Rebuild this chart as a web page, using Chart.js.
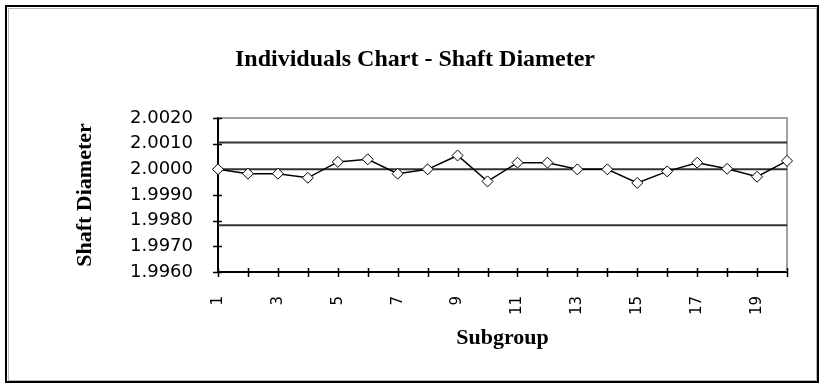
<!DOCTYPE html>
<html>
<head>
<meta charset="utf-8">
<script src="https://cdn.jsdelivr.net/npm/chart.js@4"></script>
<style>
  html, body { margin: 0; padding: 0; background: #fff; overflow: hidden; }
  #wrap { width: 825px; height: 385px; position: relative; }
</style>
</head>
<body>
<div id="wrap"><canvas id="c" width="825" height="385"></canvas></div>
<script>
// Individual shaft diameter readings per subgroup
const subgroups = ['1','2','3','4','5','6','7','8','9','10','11','12','13','14','15','16','17','18','19','20'];
const diameters = [2.0000, 1.99983, 1.99983, 1.99967, 2.00029, 2.00039, 1.99983, 2.0000, 2.00054, 1.99953,
                   2.00026, 2.00026, 2.0000, 2.0000, 1.99947, 1.99992, 2.00026, 2.00002, 1.99971, 2.00033];

// Control limits
const upperLimit = 2.00105;
const centerLine = 2.0000;
const lowerLimit = 1.99782;

// Axis ticks and labels
const yTickValues = [1.996, 1.997, 1.998, 1.999, 2.000, 2.001, 2.002];
const chartTitle = 'Individuals Chart - Shaft Diameter';
const xAxisTitle = 'Subgroup';
const yAxisTitle = 'Shaft Diameter';

const serif = '"Liberation Serif", "Times New Roman", serif';
const sans = '"DejaVu Sans", sans-serif';

function limitLine(value) {
  return {
    data: [{ x: subgroups[0], y: value }, { x: subgroups[subgroups.length - 1], y: value }],
    borderColor: '#333',
    borderWidth: 2,
    pointRadius: 0,
    fill: false
  };
}

const frame = {
  id: 'frame',
  beforeDatasetsDraw(chart) {
    const { ctx, chartArea: a, scales } = chart;
    ctx.save();
    // gray top and right plot edges
    ctx.strokeStyle = '#a0a0a0';
    ctx.lineWidth = 2;
    ctx.beginPath();
    ctx.moveTo(a.left, a.top);
    ctx.lineTo(a.right, a.top);
    ctx.lineTo(a.right, a.bottom);
    ctx.stroke();
    // tick marks crossing both axes
    ctx.strokeStyle = '#000';
    ctx.lineWidth = 1.5;
    ctx.beginPath();
    scales.x.ticks.forEach((t, i) => {
      const px = Math.round(scales.x.getPixelForTick(i)) + 0.5;
      ctx.moveTo(px, a.bottom - 4);
      ctx.lineTo(px, a.bottom + 5);
    });
    scales.y.ticks.forEach((t, i) => {
      const py = Math.round(scales.y.getPixelForTick(i)) + 0.5;
      ctx.moveTo(a.left - 5, py);
      ctx.lineTo(a.left + 4, py);
    });
    ctx.stroke();
    ctx.restore();
  },
  afterDraw(chart) {
    const { ctx, chartArea: a } = chart;
    ctx.save();
    // outer frame
    ctx.strokeStyle = '#000';
    ctx.lineWidth = 2;
    ctx.strokeRect(6, 6, 812, 376);
    ctx.strokeStyle = '#b8b8b8';
    ctx.lineWidth = 1;
    ctx.strokeRect(8.5, 8.5, 808, 372);
    // titles
    ctx.fillStyle = '#000';
    ctx.textAlign = 'center';
    ctx.textBaseline = 'middle';
    ctx.font = 'bold 24px ' + serif;
    ctx.fillText(chartTitle, 415, 60);
    ctx.font = 'bold 22px ' + serif;
    ctx.fillText(xAxisTitle, (a.left + a.right) / 2, 338);
    ctx.translate(85, (a.top + a.bottom) / 2);
    ctx.rotate(-Math.PI / 2);
    ctx.fillText(yAxisTitle, 0, 0);
    ctx.restore();
  }
};

new Chart(document.getElementById('c'), {
  type: 'line',
  data: {
    labels: subgroups,
    datasets: [
      {
        data: diameters,
        borderColor: '#000',
        borderWidth: 1.5,
        pointStyle: 'rectRot',
        pointRadius: 5.5,
        pointBackgroundColor: '#fff',
        pointBorderColor: '#000',
        pointBorderWidth: 1,
        tension: 0,
        fill: false
      },
      limitLine(upperLimit),
      limitLine(centerLine),
      limitLine(lowerLimit)
    ]
  },
  options: {
    responsive: false,
    animation: false,
    devicePixelRatio: 1,
    layout: { padding: { top: 118, right: 38, bottom: 0, left: 0 } },
    plugins: { legend: { display: false }, tooltip: { enabled: false }, title: { display: false } },
    scales: {
      x: {
        type: 'category',
        offset: false,
        grid: { display: false },
        border: { color: '#000', width: 2 },
        ticks: {
          autoSkip: false,
          maxRotation: 90,
          minRotation: 90,
          padding: 16,
          color: '#000',
          font: { family: sans, size: 15 },
          callback: (v, i) => (i % 2 === 0 ? subgroups[i] : '')
        },
        afterFit: s => { s.height = 113; }
      },
      y: {
        min: 1.996,
        max: 2.002,
        grid: { display: false },
        border: { color: '#000', width: 2 },
        afterBuildTicks: s => { s.ticks = yTickValues.map(v => ({ value: v })); },
        ticks: {
          padding: 17,
          color: '#000',
          font: { family: sans, size: 18 },
          callback: v => Number(v).toFixed(4)
        },
        afterFit: s => { s.width = 218; }
      }
    }
  },
  plugins: [frame]
});
</script>
</body>
</html>
